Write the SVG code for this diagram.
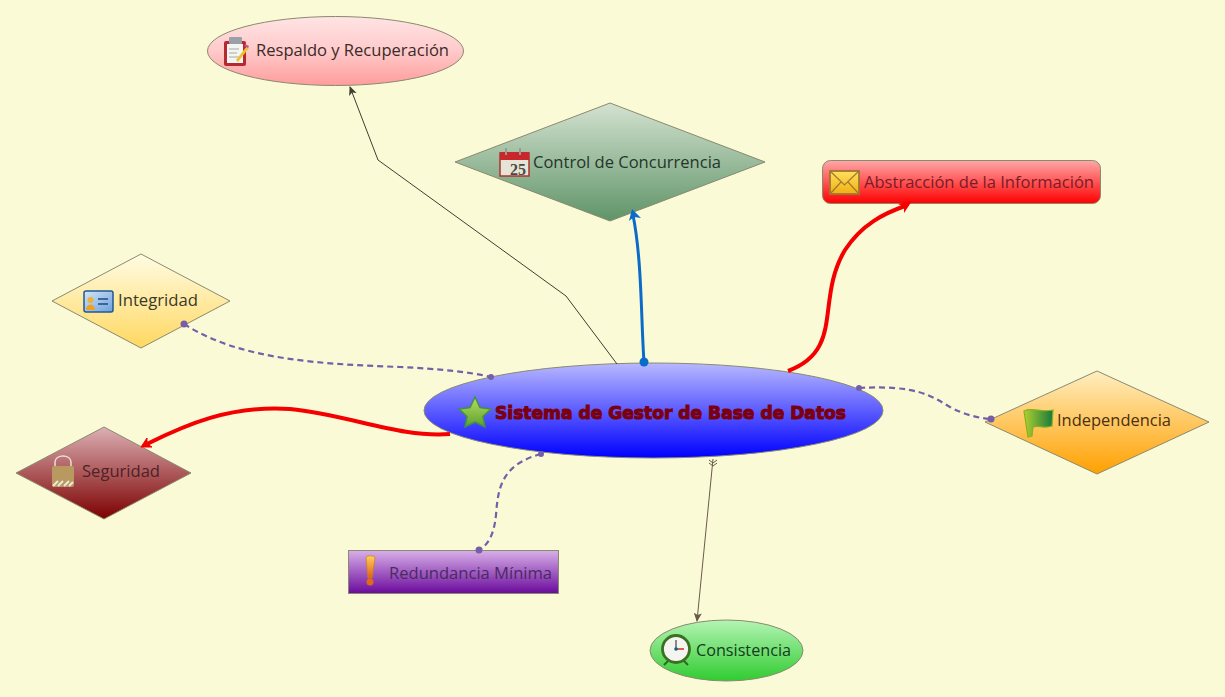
<svg xmlns="http://www.w3.org/2000/svg" width="1225" height="697" viewBox="0 0 1225 697">
<style>
.s{stroke:#8a8a70;stroke-width:1}
.t{font-family:"Open Sans","Noto Sans",sans-serif;font-size:16px;fill:#3a2a2a}
.d{fill:none;stroke:#7560a8;stroke-width:2.200;stroke-dasharray:6 4}
.dot{fill:#7560a8}
.r{fill:none;stroke:#f40000;stroke-width:4}
</style>
<defs>
<linearGradient id="gPink" x1="0" y1="0" x2="0" y2="1"><stop offset="0" stop-color="#ffe4e4"/><stop offset="0.5" stop-color="#ffcaca"/><stop offset="1" stop-color="#ff9c9c"/></linearGradient>
<linearGradient id="gGreenD" x1="0" y1="0" x2="0" y2="1"><stop offset="0" stop-color="#d4e2d0"/><stop offset="1" stop-color="#5f9468"/></linearGradient>
<linearGradient id="gRed" x1="0" y1="0" x2="0" y2="1"><stop offset="0" stop-color="#ffa8a8"/><stop offset="1" stop-color="#ff0000"/></linearGradient>
<linearGradient id="gYellow" x1="0" y1="0" x2="0" y2="1"><stop offset="0" stop-color="#fffce4"/><stop offset="1" stop-color="#ffd860"/></linearGradient>
<linearGradient id="gBlue" x1="0" y1="0" x2="0" y2="1"><stop offset="0" stop-color="#b8b8ff"/><stop offset="1" stop-color="#0000ff"/></linearGradient>
<linearGradient id="gOrange" x1="0" y1="0" x2="0" y2="1"><stop offset="0" stop-color="#ffeec0"/><stop offset="1" stop-color="#ffa000"/></linearGradient>
<linearGradient id="gMaroon" x1="0" y1="0" x2="0" y2="1"><stop offset="0" stop-color="#dcb0b4"/><stop offset="1" stop-color="#7c0000"/></linearGradient>
<linearGradient id="gPurple" x1="0" y1="0" x2="0" y2="1"><stop offset="0" stop-color="#d8b0e8"/><stop offset="1" stop-color="#6a0a9c"/></linearGradient>
<linearGradient id="gLime" x1="0" y1="0" x2="0" y2="1"><stop offset="0" stop-color="#b4f4b4"/><stop offset="1" stop-color="#30cc30"/></linearGradient>
<linearGradient id="gStar" x1="0" y1="0" x2="0" y2="1"><stop offset="0" stop-color="#b8dc60"/><stop offset="1" stop-color="#5ca030"/></linearGradient>
<linearGradient id="gFlag" x1="0" y1="0" x2="1" y2="0"><stop offset="0" stop-color="#b0d030"/><stop offset="1" stop-color="#157a3c"/></linearGradient>
<linearGradient id="gBang" x1="0" y1="0" x2="0" y2="1"><stop offset="0" stop-color="#ffd060"/><stop offset="1" stop-color="#e06010"/></linearGradient>
<linearGradient id="gMail" x1="0" y1="0" x2="0" y2="1"><stop offset="0" stop-color="#ffe060"/><stop offset="1" stop-color="#f0b010"/></linearGradient>
<linearGradient id="gCard" x1="0" y1="0" x2="1" y2="1"><stop offset="0" stop-color="#d4e6f8"/><stop offset="1" stop-color="#6ca0dc"/></linearGradient>
<marker id="aK" markerUnits="userSpaceOnUse" markerWidth="10" markerHeight="10" refX="8" refY="4" orient="auto"><path d="M0 0L9 4L0 8L2 4Z" fill="#3f3f30"/></marker>
<marker id="aB" markerUnits="userSpaceOnUse" markerWidth="10" markerHeight="10" refX="8" refY="4" orient="auto"><path d="M0 0L9 4L0 8L2 4Z" fill="#6a5a48"/></marker>
</defs>
<rect width="1225" height="697" fill="#fbfad7"/>

<g id="n-respaldo">
<ellipse cx="335.500" cy="51" rx="128" ry="34.500" fill="url(#gPink)" class="s"/>
<rect x="224" y="41" width="22" height="25" rx="2" fill="#b52a30"/>
<rect x="227" y="44" width="16" height="19" fill="#f4f4f0"/>
<rect x="229" y="37" width="13" height="7" rx="1" fill="#9aa0a8"/>
<path d="M229 49h10M229 53h8M229 57h10" stroke="#a8a8a8" stroke-width="1"/>
<path d="M236 60L247 46L249 48L238 62Z" fill="#f0c030"/>
<path d="M245 44L249 46L248 48L244 46Z" fill="#c05090"/>
<text class="t" x="256" y="56" textLength="193" lengthAdjust="spacingAndGlyphs">Respaldo y Recuperación</text>
</g>

<g id="n-control">
<polygon points="610,103 765,162 610,221 455,162" fill="url(#gGreenD)" class="s"/>
<rect x="500" y="153" width="29" height="23" fill="#e6e4d6" stroke="#b03030" stroke-width="1.500"/>
<rect x="500" y="152" width="29" height="8" fill="#c8282c"/>
<path d="M506 148v7M520 148v7" stroke="#9a9a90" stroke-width="2"/>
<text x="510" y="175" font-family="Liberation Serif,serif" font-size="16" font-weight="700" fill="#4a4a44">25</text>
<text class="t" x="533" y="168" textLength="188" lengthAdjust="spacingAndGlyphs" style="fill:#26352a">Control de Concurrencia</text>
</g>

<g id="n-abstraccion">
<rect x="822.500" y="160.500" width="278" height="43" rx="8" fill="url(#gRed)" class="s"/>
<rect x="830" y="171" width="29" height="23" fill="url(#gMail)" stroke="#a07830" stroke-width="1.800"/>
<path d="M830 171L844.500 185L859 171M830 194L841 182M859 194L848 182" fill="none" stroke="#a07830" stroke-width="1.200"/>
<text class="t" x="864" y="188" textLength="230" lengthAdjust="spacingAndGlyphs" style="fill:#7a1c28">Abstracción de la Información</text>
</g>

<g id="n-integridad">
<polygon points="141,254 230,301 141,348 52,301" fill="url(#gYellow)" class="s"/>
<rect x="84" y="291" width="29" height="21" rx="2" fill="url(#gCard)" stroke="#1e5a94" stroke-width="1.500"/>
<circle cx="90.500" cy="300" r="3" fill="#f0b030"/>
<path d="M86 310C86 303 95 303 95 310Z" fill="#f0a020"/>
<path d="M98 299h10M98 304h10" stroke="#1e4a80" stroke-width="1.500"/>
<text class="t" x="118" y="306" textLength="80" lengthAdjust="spacingAndGlyphs" style="fill:#3a3a2a">Integridad</text>
</g>

<g id="n-central">
<ellipse cx="653.500" cy="410.500" rx="229.500" ry="47.500" fill="url(#gBlue)" class="s"/>
<path d="M475 397L480 407.500L491 409L483 416.500L485 427L475 422L465 427L467 416.500L459 409L470 407.500Z" fill="url(#gStar)" stroke="#3f9048" stroke-width="1.500"/>
<text x="495" y="419" textLength="351" lengthAdjust="spacingAndGlyphs" font-family="DejaVu Sans,sans-serif" font-size="18" font-weight="700" fill="#7a0010" stroke="#7a0010" stroke-width="1.100">Sistema de Gestor de Base de Datos</text>
</g>

<g id="n-independencia">
<polygon points="1097,371 1209,422 1097,474 985,422" fill="url(#gOrange)" class="s"/>
<path d="M1024 411C1032 407 1042 413 1053 410L1052 426C1045 429 1038 425 1033 427L1032 436L1028 437Z" fill="url(#gFlag)" stroke="#8ab020" stroke-width="1.200"/>
<text class="t" x="1057" y="426" textLength="114" lengthAdjust="spacingAndGlyphs" style="fill:#4a3010">Independencia</text>
</g>

<g id="n-seguridad">
<polygon points="104,427 191,473 104,519 16,473" fill="url(#gMaroon)" class="s"/>
<path d="M55 462V468M71 462V468M55 462C55 454 71 454 71 462" fill="none" stroke="#e8e0d8" stroke-width="1.500"/>
<rect x="52" y="466" width="22" height="21" rx="2" fill="#b89a60"/>
<path d="M53 486l5-5M58 486l5-5M64 486l5-5M69 486l4-4" stroke="#eee8d8" stroke-width="2"/>
<text class="t" x="82" y="477" textLength="78" lengthAdjust="spacingAndGlyphs" style="fill:#4e2226">Seguridad</text>
</g>

<g id="n-redundancia">
<rect x="348.500" y="550.500" width="210" height="43" fill="url(#gPurple)" class="s"/>
<path d="M366 558C366 555 375 555 375 558L372 578H368Z" fill="url(#gBang)" stroke="#d08020" stroke-width="0.800"/>
<circle cx="370" cy="582" r="3.500" fill="#e06a18"/>
<text class="t" x="389" y="579" textLength="163" lengthAdjust="spacingAndGlyphs" style="fill:#4a2a60">Redundancia Mínima</text>
</g>

<g id="n-consistencia">
<ellipse cx="726.500" cy="650.500" rx="76.500" ry="30.500" fill="url(#gLime)" class="s"/>
<path d="M668 661L664 665M684 661L688 665" stroke="#2c6a20" stroke-width="2"/>
<circle cx="676" cy="649" r="13.500" fill="#f4f4f0" stroke="#3a7020" stroke-width="2.800"/>
<path d="M676 640V649" fill="none" stroke="#404040" stroke-width="1.200"/>
<path d="M676 649H684" fill="none" stroke="#d03020" stroke-width="1.500"/>
<circle cx="676" cy="649" r="1.800" fill="#10608a"/>
<text class="t" x="696" y="656" textLength="95" lengthAdjust="spacingAndGlyphs" style="fill:#143c20">Consistencia</text>
</g>

<g id="connectors" fill="none">
<path d="M617 364L566 296L378 160L350 87" stroke="#3f3f30" stroke-width="1" marker-end="url(#aK)"/>
<path d="M644 362C641 320 642 260 633 215" stroke="#0a6cc8" stroke-width="3"/>
<path d="M632 209L641 218L634 217L629 221Z" fill="#0a6cc8"/>
<circle cx="644" cy="362" r="4.500" fill="#0a6cc8"/>
<path class="r" d="M788 371C845 350 815 300 845 250C862 224 885 213 905 206"/>
<path d="M912 201L898 204L904 207L904 213Z" fill="#f40000"/>
<path class="d" d="M184 324C240 360 320 364 400 367C440 369 470 372 491 377"/>
<circle class="dot" cx="184" cy="324" r="3.500"/><circle class="dot" cx="491" cy="377" r="3"/>
<path class="d" d="M859 388C915 385 930 395 950 407C965 415 978 418 991 419"/>
<circle class="dot" cx="859" cy="388" r="3"/><circle class="dot" cx="991" cy="419" r="3.500"/>
<path class="r" d="M450 434C400 438 350 415 290 409C230 405 185 425 147 444"/>
<path d="M141 447L147 438L147 444L152 447Z" fill="#f40000" stroke="#f40000"/>
<path class="d" d="M541 454C500 465 498 490 496 515C494 535 488 545 479 550"/>
<circle class="dot" cx="541" cy="454" r="3"/><circle class="dot" cx="479" cy="550" r="3.500"/>
<path d="M713 459L697 621" stroke="#6a5a48" stroke-width="1" marker-end="url(#aB)"/>
<path d="M709 460L713 463L717 460M709 463L713 466L717 463" stroke="#6a5a48" stroke-width="1"/>
</g>
</svg>
